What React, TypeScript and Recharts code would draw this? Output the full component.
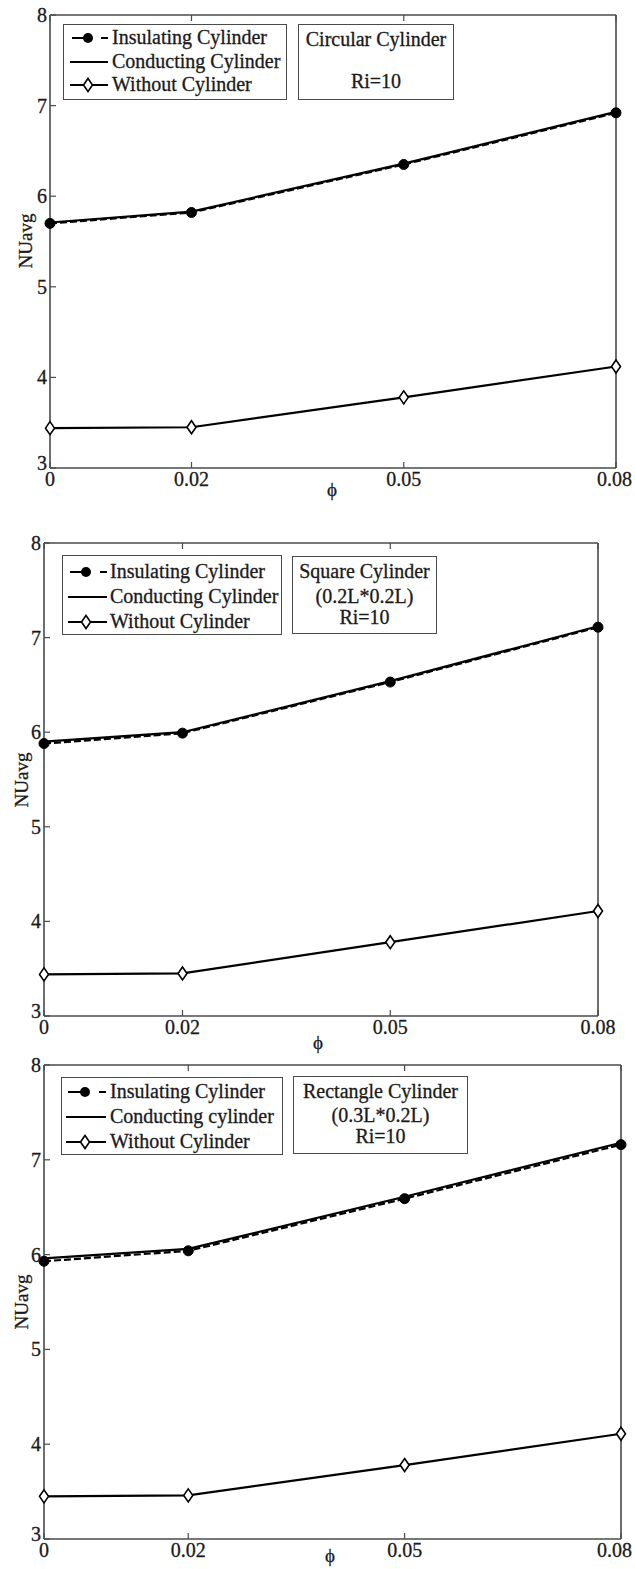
import React from 'react';
import { LineChart, Line, XAxis, YAxis } from 'recharts';

// ---------- data ----------
const phiValues = [0, 0.02, 0.05, 0.08];
const xTicks = [0, 0.02, 0.05, 0.08];
const xTickLabels = ['0', '0.02', '0.05', '0.08'];
const yTicks = [3, 4, 5, 6, 7, 8];

const circularInsulating = [5.70, 5.82, 6.35, 6.92];
const circularConducting = [5.71, 5.83, 6.36, 6.93];
const circularWithout = [3.44, 3.45, 3.78, 4.12];

const squareInsulating = [5.88, 5.99, 6.53, 7.11];
const squareConducting = [5.90, 6.00, 6.54, 7.12];
const squareWithout = [3.44, 3.45, 3.78, 4.11];

const rectInsulating = [5.93, 6.04, 6.59, 7.16];
const rectConducting = [5.96, 6.06, 6.61, 7.18];
const rectWithout = [3.45, 3.46, 3.78, 4.11];

const legend1 = ['Insulating Cylinder', 'Conducting Cylinder', 'Without Cylinder'];
const legend2 = ['Insulating Cylinder', 'Conducting Cylinder', 'Without Cylinder'];
const legend3 = ['Insulating Cylinder', 'Conducting cylinder', 'Without Cylinder'];

const note1 = ['Circular Cylinder', 'Ri=10'];
const note2 = ['Square Cylinder', '(0.2L*0.2L)', 'Ri=10'];
const note3 = ['Rectangle Cylinder', '(0.3L*0.2L)', 'Ri=10'];

const yLabel = 'NUavg';
const xLabel = 'ϕ';

const FONT = "'Liberation Serif', 'Times New Roman', serif";
const INK = '#1a1a1a';
const AXIS = '#4a4a4a';

const buildData = (ins: number[], con: number[], wo: number[]) =>
  phiValues.map((phi, i) => ({ phi, ins: ins[i], con: con[i], wo: wo[i] }));

// ---------- layout (page coordinates) ----------
const panels = [
  {
    top: 0, height: 520,
    plot: { l: 50, r: 616, t: 15, b: 468 },
    data: buildData(circularInsulating, circularConducting, circularWithout),
    legendLabels: legend1,
    legendBox: { l: 63, t: 24, w: 224, h: 76 },
    legendRows: [14, 38, 61],
    legendX: { a: 72, b: 108, m: 88, text: 112 },
    note: note1,
    noteBox: { l: 298, t: 24, w: 156, h: 76 },
    noteRows: [16, 58],
    phi: { x: 332, y: 490 },
    yl: { x: 26, y: 241 },
  },
  {
    top: 520, height: 530,
    plot: { l: 44, r: 598, t: 543, b: 1016 },
    data: buildData(squareInsulating, squareConducting, squareWithout),
    legendLabels: legend2,
    legendBox: { l: 62, t: 555, w: 220, h: 80 },
    legendRows: [17, 42, 67],
    legendX: { a: 70, b: 107, m: 86, text: 110 },
    note: note2,
    noteBox: { l: 292, t: 556, w: 145, h: 78 },
    noteRows: [16, 41, 62],
    phi: { x: 318, y: 1043 },
    yl: { x: 22, y: 780 },
  },
  {
    top: 1050, height: 519,
    plot: { l: 44, r: 621, t: 1065, b: 1539 },
    data: buildData(rectInsulating, rectConducting, rectWithout),
    legendLabels: legend3,
    legendBox: { l: 61, t: 1077, w: 222, h: 78 },
    legendRows: [15, 40, 65],
    legendX: { a: 68, b: 106, m: 85, text: 110 },
    note: note3,
    noteBox: { l: 293, t: 1076, w: 175, h: 78 },
    noteRows: [16, 40, 61],
    phi: { x: 330, y: 1556 },
    yl: { x: 22, y: 1302 },
  },
];

// ---------- custom ticks (MATLAB style inward ticks) ----------
const TL = 6;
const labelFor = (v: number) => {
  const i = xTicks.findIndex((t) => Math.abs(t - v) < 1e-9);
  return i >= 0 ? xTickLabels[i] : String(v);
};

const BottomTick = (props: any) => {
  const { x, y, payload } = props;
  const lab = labelFor(payload.value);
  const halfW = lab.length * 4.6;
  const tx = Math.min(x, 633 - halfW);
  return (
    <g>
      <line x1={x} y1={y} x2={x} y2={y - TL} stroke={AXIS} strokeWidth={1.2} />
      <text x={tx} y={y + 18} textAnchor="middle" fontFamily={FONT} fontSize={20} fill={INK} stroke={INK} strokeWidth={0.3}>
        {lab}
      </text>
    </g>
  );
};
const TopTick = (props: any) => {
  const { x, y } = props;
  return <line x1={x} y1={y} x2={x} y2={y + TL} stroke={AXIS} strokeWidth={1.2} />;
};
const LeftTick = (props: any) => {
  const { x, y, payload } = props;
  const isBottom = payload.value === 3;
  return (
    <g>
      <line x1={x} y1={y} x2={x + TL} y2={y} stroke={AXIS} strokeWidth={1.2} />
      <text x={x - 3} y={isBottom ? y + 2 : y + 7} textAnchor="end" fontFamily={FONT} fontSize={20} fill={INK} stroke={INK} strokeWidth={0.3}>
        {payload.value}
      </text>
    </g>
  );
};
const RightTick = (props: any) => {
  const { x, y } = props;
  return <line x1={x} y1={y} x2={x - TL} y2={y} stroke={AXIS} strokeWidth={1.2} />;
};

// ---------- markers ----------
const FilledDot = (props: any) => {
  const { cx, cy, index } = props;
  if (cx == null || cy == null) return <g key={`fd-${index}`} />;
  return <circle key={`fd-${index}`} cx={cx} cy={cy} r={5} fill="#000" stroke="#000" strokeWidth={1} />;
};
const Diamond = (props: any) => {
  const { cx, cy, index } = props;
  if (cx == null || cy == null) return <g key={`dm-${index}`} />;
  const w = 4.5, h = 6.5;
  return (
    <polygon
      key={`dm-${index}`}
      points={`${cx},${cy - h} ${cx + w},${cy} ${cx},${cy + h} ${cx - w},${cy}`}
      fill="#fff"
      stroke="#000"
      strokeWidth={1.6}
    />
  );
};

// ---------- panel ----------
const Panel = ({ p }: { p: any }) => {
  const W = 635;
  const margin = {
    top: p.plot.t - p.top - 1,
    bottom: p.top + p.height - p.plot.b - 1,
    left: p.plot.l - 1,
    right: W - p.plot.r - 1,
  };
  const lx = p.legendX;
  const textStyle: React.CSSProperties = {
    position: 'absolute',
    fontFamily: FONT,
    fontSize: 20,
    lineHeight: '22px',
    color: INK,
    whiteSpace: 'nowrap',
    WebkitTextStroke: '0.3px #1a1a1a',
  };
  const axisCommon = {
    tickSize: 0,
    tickMargin: 0,
    tickLine: false,
    axisLine: { stroke: AXIS, strokeWidth: 1.6 },
    interval: 0 as const,
  };
  return (
    <>
      <div style={{ position: 'absolute', left: 0, top: p.top, width: W, height: p.height }}>
        <LineChart width={W} height={p.height} data={p.data} margin={margin}>
          <XAxis
            xAxisId="b"
            dataKey="phi"
            type="number"
            domain={[0, 0.08]}
            ticks={xTicks}
            height={1}
            {...axisCommon}
            tick={<BottomTick />}
          />
          <XAxis
            xAxisId="t"
            orientation="top"
            dataKey="phi"
            type="number"
            domain={[0, 0.08]}
            ticks={xTicks}
            height={1}
            {...axisCommon}
            tick={<TopTick />}
          />
          <YAxis
            yAxisId="l"
            type="number"
            domain={[3, 8]}
            ticks={yTicks}
            width={1}
            {...axisCommon}
            tick={<LeftTick />}
          />
          <YAxis
            yAxisId="r"
            orientation="right"
            type="number"
            domain={[3, 8]}
            ticks={yTicks}
            width={1}
            {...axisCommon}
            tick={<RightTick />}
          />
          <Line
            xAxisId="b"
            yAxisId="l"
            type="linear"
            dataKey="con"
            name={p.legendLabels[1]}
            stroke="#000"
            strokeWidth={2.2}
            dot={false}
            activeDot={false}
            isAnimationActive={false}
          />
          <Line
            xAxisId="b"
            yAxisId="l"
            type="linear"
            dataKey="ins"
            name={p.legendLabels[0]}
            stroke="#000"
            strokeWidth={2.2}
            strokeDasharray="7 3"
            dot={<FilledDot />}
            activeDot={false}
            isAnimationActive={false}
          />
          <Line
            xAxisId="b"
            yAxisId="l"
            type="linear"
            dataKey="wo"
            name={p.legendLabels[2]}
            stroke="#000"
            strokeWidth={2.2}
            dot={<Diamond />}
            activeDot={false}
            isAnimationActive={false}
          />
        </LineChart>
      </div>

      {/* legend box */}
      <div
        style={{
          position: 'absolute',
          left: p.legendBox.l,
          top: p.legendBox.t,
          width: p.legendBox.w,
          height: p.legendBox.h,
          border: `1.5px solid ${AXIS}`,
          boxSizing: 'border-box',
          background: '#fff',
        }}
      />
      <svg
        style={{ position: 'absolute', left: 0, top: p.legendBox.t, overflow: 'visible' }}
        width={W}
        height={p.legendBox.h}
      >
        <line x1={lx.a} y1={p.legendRows[0]} x2={lx.m + 4} y2={p.legendRows[0]} stroke="#000" strokeWidth={2} />
        <line x1={lx.b - 7} y1={p.legendRows[0]} x2={lx.b} y2={p.legendRows[0]} stroke="#000" strokeWidth={2} />
        <circle cx={lx.m} cy={p.legendRows[0]} r={5} fill="#000" />
        <line x1={lx.a - 2} y1={p.legendRows[1]} x2={lx.b} y2={p.legendRows[1]} stroke="#000" strokeWidth={2} />
        <line x1={lx.a - 2} y1={p.legendRows[2]} x2={lx.b} y2={p.legendRows[2]} stroke="#000" strokeWidth={2} />
        <polygon
          points={`${lx.m},${p.legendRows[2] - 6.5} ${lx.m + 4.5},${p.legendRows[2]} ${lx.m},${p.legendRows[2] + 6.5} ${lx.m - 4.5},${p.legendRows[2]}`}
          fill="#fff"
          stroke="#000"
          strokeWidth={1.6}
        />
      </svg>
      {p.legendLabels.map((s: string, i: number) => (
        <div key={`lg-${i}`} style={{ ...textStyle, left: lx.text, top: p.legendBox.t + p.legendRows[i] - 12 }}>
          {s}
        </div>
      ))}

      {/* annotation box */}
      <div
        style={{
          position: 'absolute',
          left: p.noteBox.l,
          top: p.noteBox.t,
          width: p.noteBox.w,
          height: p.noteBox.h,
          border: `1.5px solid ${AXIS}`,
          boxSizing: 'border-box',
          background: '#fff',
        }}
      />
      {p.note.map((s: string, i: number) => (
        <div
          key={`nt-${i}`}
          style={{
            ...textStyle,
            left: p.noteBox.l,
            width: p.noteBox.w,
            textAlign: 'center',
            top: p.noteBox.t + p.noteRows[i] - 12,
          }}
        >
          {s}
        </div>
      ))}

      {/* axis titles */}
      <div style={{ ...textStyle, fontSize: 19, lineHeight: '20px', left: p.phi.x - 20, width: 40, textAlign: 'center', top: p.phi.y - 10 }}>
        {xLabel}
      </div>
      <div
        style={{
          ...textStyle,
          fontSize: 19,
          left: p.yl.x - 40,
          top: p.yl.y - 11,
          width: 80,
          textAlign: 'center',
          transform: 'rotate(-90deg)',
          transformOrigin: '40px 11px',
        }}
      >
        {yLabel}
      </div>
    </>
  );
};

export default function App() {
  return (
    <div style={{ position: 'absolute', left: 0, top: 0, width: 635, height: 1569, background: '#fff', overflow: 'hidden' }}>
      {panels.map((p, i) => (
        <Panel key={i} p={p} />
      ))}
    </div>
  );
}
